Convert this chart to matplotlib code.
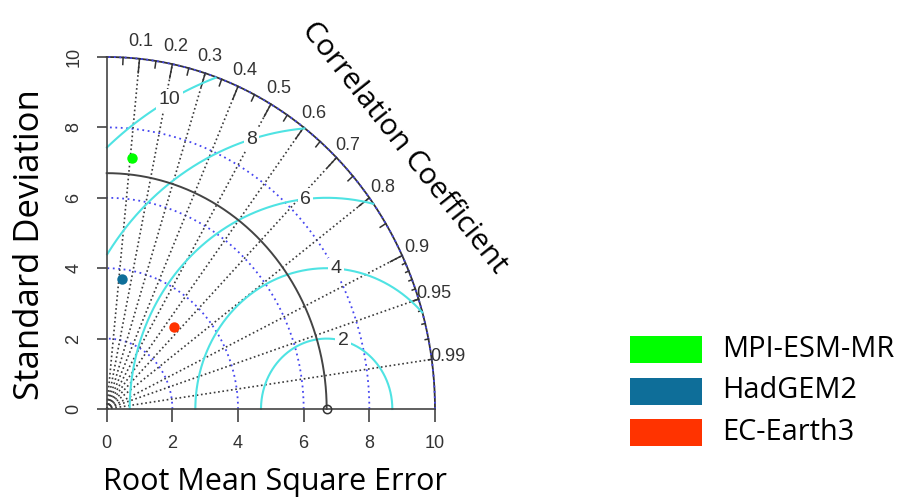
import numpy as np
import matplotlib.pyplot as plt
from matplotlib.patches import Rectangle

# model statistics (standard deviation, correlation with observations)
models = ['MPI-ESM-MR', 'HadGEM2', 'EC-Earth3']
model_sd = [7.16, 3.72, 3.11]
model_cor = [0.106, 0.123, 0.659]
model_colors = ['#00ff00', '#0e6e99', '#ff3300']

ref_sd = 6.7          # observed standard deviation
max_sd = 10
sd_arcs = [2, 4, 6, 8, 10]
rms_levels = [2, 4, 6, 8, 10]
cor_lines = [0.1, 0.2, 0.3, 0.4, 0.5, 0.6, 0.7, 0.8, 0.9, 0.95, 0.99]
axis_ticks = [0, 2, 4, 6, 8, 10]

W, H = 900, 497
fig = plt.figure(figsize=(W / 100, H / 100), dpi=100)
ax = fig.add_axes([106.7 / W, (H - 409) / H, 328.3 / W, 352 / H])
ax.set_xlim(0, max_sd)
ax.set_ylim(0, max_sd)
for s in ['top', 'right']:
    ax.spines[s].set_visible(False)
for s in ['left', 'bottom']:
    ax.spines[s].set_color('#444444')
    ax.spines[s].set_linewidth(1.2)

lab_font = ['Liberation Sans', 'DejaVu Sans']
ax.set_xticks(axis_ticks)
ax.set_xticklabels([str(t) for t in axis_ticks], fontsize=13, family=lab_font, color='#333333')
ax.set_yticks(axis_ticks)
ax.set_yticklabels([str(t) for t in axis_ticks], fontsize=13, family=lab_font, color='#333333',
                   rotation=90, va='center')
ax.tick_params(axis='x', length=9, width=1.2, color='#444444', pad=10)
ax.tick_params(axis='y', length=7.5, width=1.2, color='#444444', pad=10)

th = np.linspace(0, np.pi / 2, 400)

# outer arc and standard deviation arcs
ax.plot(max_sd * np.cos(th), max_sd * np.sin(th), color='#333333', lw=1.3, clip_on=False)
for r in sd_arcs:
    ax.plot(r * np.cos(th), r * np.sin(th), color='#4646f0', lw=1.3, ls=(0, (1, 2.0)), clip_on=False)

# correlation rays
for c in cor_lines:
    ax.plot([0, max_sd * c], [0, max_sd * np.sqrt(1 - c ** 2)], color='#3a3a3a', lw=1.2,
            ls=(0, (1, 1.6)), clip_on=False)

# tick marks on the outer arc
for vals, frac in [(np.arange(0.1, 0.95, 0.1), 0.96), (np.arange(0.05, 1.0, 0.1), 0.98),
                   (np.arange(0.91, 0.995, 0.01), 0.99)]:
    a = np.arccos(vals)
    for ang in a:
        ax.plot([frac * max_sd * np.cos(ang), max_sd * np.cos(ang)],
                [frac * max_sd * np.sin(ang), max_sd * np.sin(ang)],
                color='#333333', lw=1.1, clip_on=False)

# correlation labels
for c in cor_lines:
    ang = np.arccos(c)
    ax.text(1.05 * max_sd * np.cos(ang), 1.05 * max_sd * np.sin(ang), str(c),
            ha='center', va='center', fontsize=13, family=lab_font, color='#333333')

# centred RMS difference contours
phi = np.arange(0, np.pi, 0.004)
label_idx = np.floor(np.linspace(45, 70, len(rms_levels))) - 1
for g, li in zip(rms_levels, label_idx):
    xc = ref_sd + g * np.cos(phi)
    yc = g * np.sin(phi)
    m = (xc >= 0) & (xc ** 2 + yc ** 2 <= max_sd ** 2)
    ax.plot(xc[m], yc[m], color='#4fe3e3', lw=1.5, clip_on=False)
    a = li * 0.03
    ax.text(ref_sd + g * np.cos(a), g * np.sin(a), str(g), ha='center', va='center',
            fontsize=14, family=lab_font, color='#333333',
            bbox=dict(facecolor='white', edgecolor='none', pad=1.5))

# reference standard deviation arc and point
ax.plot(ref_sd * np.cos(th), ref_sd * np.sin(th), color='#444444', lw=1.4, clip_on=False)
ax.plot(ref_sd, 0, 'o', mfc='none', mec='#333333', ms=6, mew=1.1, clip_on=False, zorder=5)

# models
for sd, c, col in zip(model_sd, model_cor, model_colors):
    ax.plot(sd * c, sd * np.sqrt(1 - c ** 2), 'o', color=col, ms=7.5, mec='none', clip_on=False, zorder=6)

title_font = ['Open Sans', 'DejaVu Sans']
ax.text(9.06, 7.41, 'Correlation Coefficient', rotation=-51.5, rotation_mode='anchor',
        ha='center', va='center', fontsize=21.5, family=title_font, color='black')
fig.text(275 / W, 1 - 482 / H, 'Root Mean Square Error', ha='center', va='center',
         fontsize=22, family=title_font)
fig.text(30 / W, 1 - 245 / H, 'Standard Deviation', ha='center', va='center', rotation=90,
         fontsize=25, family=title_font)

# legend boxes
for i, (name, col) in enumerate(zip(models, model_colors)):
    top = 336 + i * 41.5
    fig.add_artist(Rectangle((630 / W, 1 - (top + 27) / H), 72 / W, 27 / H,
                             transform=fig.transFigure, facecolor=col, edgecolor='none'))
    fig.text(722 / W, 1 - (top + 13.5) / H, name, ha='left', va='center',
             fontsize=20.8, family=title_font)

fig.savefig('out.png', dpi=100)
